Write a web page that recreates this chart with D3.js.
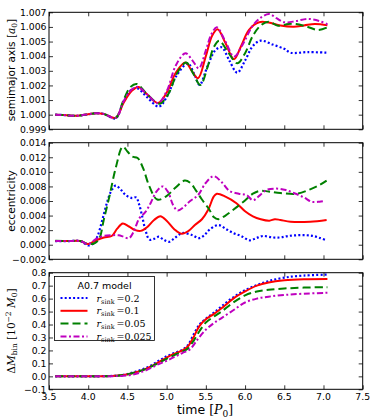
<!DOCTYPE html>
<html>
<head>
<meta charset="utf-8">
<script src="https://cdn.jsdelivr.net/npm/d3@7"></script>
<style>
  body { margin: 0; background: #fff; }
  svg text { font-family: "DejaVu Sans", sans-serif; }
  .math { font-family: "DejaVu Serif", serif; }
</style>
</head>
<body>
<div id="chart"></div>
<script>
// time axis
const xTicks = [3.5, 4.0, 4.5, 5.0, 5.5, 6.0, 6.5, 7.0, 7.5];

// semimajor axis [a0]
const aTicks = [0.999, 1.000, 1.001, 1.002, 1.003, 1.004, 1.005, 1.006, 1.007];
const aStart = [[3.58, 1.0], [3.7, 0.99997], [3.85, 0.99992], [4.0, 1.00003], [4.1, 1.0001], [4.2, 1.00005]];
const aSink02 = aStart.concat([[4.35, 0.99975], [4.45, 1.0009], [4.55, 1.0017], [4.63, 1.0018], [4.75, 1.0012], [4.9, 1.00055], [5.0, 1.0012], [5.13, 1.0027], [5.27, 1.0035], [5.35, 1.0028], [5.42, 1.00203], [5.52, 1.0033], [5.62, 1.0044], [5.7, 1.00461], [5.8, 1.0037], [5.9, 1.00287], [6.0, 1.0037], [6.1, 1.0047], [6.2, 1.00506], [6.35, 1.0048], [6.5, 1.0045], [6.58, 1.00424], [6.8, 1.00428], [7.05, 1.00424]]);
const aSink01 = aStart.concat([[4.35, 0.99978], [4.45, 1.0008], [4.55, 1.0016], [4.64, 1.0019], [4.75, 1.0014], [4.89, 1.0008], [5.0, 1.0015], [5.12, 1.0029], [5.24, 1.00356], [5.32, 1.003], [5.4, 1.00249], [5.5, 1.004], [5.58, 1.0054], [5.65, 1.00584], [5.75, 1.0049], [5.86, 1.00379], [5.95, 1.0047], [6.05, 1.0058], [6.18, 1.00632], [6.3, 1.0063], [6.45, 1.0061], [6.62, 1.00602], [6.75, 1.0061], [6.89, 1.0062], [7.05, 1.00612]]);
const aSink005 = aStart.concat([[4.35, 0.99978], [4.45, 1.001], [4.54, 1.0019], [4.62, 1.0021], [4.75, 1.0014], [4.91, 1.00075], [5.02, 1.0014], [5.14, 1.0029], [5.25, 1.00356], [5.34, 1.0028], [5.43, 1.00203], [5.53, 1.0034], [5.6, 1.0046], [5.67, 1.00506], [5.78, 1.0043], [5.9, 1.00351], [6.0, 1.0042], [6.1, 1.0054], [6.2, 1.0061], [6.3, 1.00636], [6.42, 1.00608], [6.55, 1.0062], [6.65, 1.0062], [6.8, 1.006], [6.93, 1.00579], [7.05, 1.00597]]);
const aSink0025 = aStart.concat([[4.35, 0.99978], [4.45, 1.0009], [4.55, 1.0017], [4.63, 1.0019], [4.75, 1.0014], [4.89, 1.0008], [5.0, 1.0016], [5.12, 1.0034], [5.24, 1.0042], [5.33, 1.0037], [5.41, 1.00317], [5.5, 1.0044], [5.57, 1.0055], [5.64, 1.00597], [5.75, 1.005], [5.86, 1.00397], [5.97, 1.0048], [6.1, 1.0061], [6.22, 1.0067], [6.31, 1.00688], [6.4, 1.0066], [6.5, 1.00632], [6.65, 1.0064], [6.8, 1.00655], [6.95, 1.0064], [7.05, 1.00618]]);

// eccentricity
const eTicks = [-0.002, 0.000, 0.002, 0.004, 0.006, 0.008, 0.010, 0.012, 0.014];
const eSink02 = [[3.58, 0.0005], [3.75, 0.0005], [3.9, 0.0005], [4.0, -0.0001], [4.07, 0.0002], [4.12, 0.0012], [4.18, 0.0034], [4.24, 0.0058], [4.29, 0.0073], [4.35, 0.0081], [4.42, 0.0075], [4.48, 0.0068], [4.56, 0.0064], [4.61, 0.0065], [4.65, 0.0055], [4.69, 0.0038], [4.73, 0.002], [4.78, 0.0007], [4.84, 0.0008], [4.9, 0.0011], [4.96, 0.0007], [5.03, 0.0004], [5.1, 0.0009], [5.2, 0.0016], [5.33, 0.0013], [5.41, 0.0009], [5.48, 0.0013], [5.54, 0.002], [5.66, 0.0027], [5.75, 0.0022], [5.85, 0.0016], [5.95, 0.0012], [6.06, 0.0006], [6.14, 0.0009], [6.23, 0.0012], [6.35, 0.001], [6.45, 0.001], [6.55, 0.0012], [6.66, 0.0013], [6.78, 0.0013], [6.87, 0.0012], [6.96, 0.0009], [7.04, 0.0006]];
const eSink01 = [[3.58, 0.0005], [3.75, 0.0005], [3.9, 0.0005], [4.0, 0.0001], [4.1, 0.0006], [4.2, 0.001], [4.3, 0.0012], [4.37, 0.0022], [4.44, 0.0029], [4.52, 0.0025], [4.6, 0.002], [4.67, 0.0019], [4.75, 0.0024], [4.84, 0.0034], [4.92, 0.0039], [5.0, 0.0033], [5.1, 0.0021], [5.19, 0.0015], [5.28, 0.0019], [5.36, 0.0027], [5.45, 0.0035], [5.53, 0.0048], [5.6, 0.0066], [5.64, 0.007], [5.75, 0.0066], [5.89, 0.0057], [6.0, 0.0046], [6.1, 0.0039], [6.2, 0.0035], [6.31, 0.0033], [6.38, 0.0035], [6.45, 0.0034], [6.58, 0.00315], [6.83, 0.00315], [7.04, 0.0034]];
const eSink005 = [[3.58, 0.00055], [3.75, 0.0005], [3.9, 0.0005], [4.0, 0.0001], [4.08, 0.0002], [4.14, 0.0008], [4.2, 0.0035], [4.27, 0.0066], [4.35, 0.0105], [4.44, 0.01345], [4.5, 0.0128], [4.56, 0.0121], [4.63, 0.0119], [4.7, 0.0105], [4.78, 0.008], [4.88, 0.0062], [4.99, 0.0066], [5.1, 0.0077], [5.23, 0.0088], [5.3, 0.0085], [5.37, 0.0075], [5.45, 0.0062], [5.54, 0.0049], [5.6, 0.0038], [5.66, 0.0035], [5.75, 0.004], [5.85, 0.0048], [5.98, 0.0059], [6.1, 0.007], [6.19, 0.0074], [6.3, 0.0073], [6.45, 0.0071], [6.66, 0.007], [6.83, 0.0076], [6.95, 0.0082], [7.04, 0.0088]];
const eSink0025 = [[3.58, 0.0005], [3.75, 0.0005], [3.9, 0.0005], [4.0, 0.0001], [4.1, 0.0008], [4.2, 0.0012], [4.3, 0.0013], [4.39, 0.0013], [4.45, 0.0011], [4.52, 0.0009], [4.58, 0.0018], [4.65, 0.0036], [4.73, 0.0045], [4.8, 0.0058], [4.87, 0.0073], [4.95, 0.008], [5.02, 0.0072], [5.08, 0.0055], [5.14, 0.0047], [5.22, 0.0052], [5.3, 0.006], [5.4, 0.0068], [5.5, 0.0085], [5.6, 0.0094], [5.7, 0.0086], [5.8, 0.0074], [5.92, 0.007], [6.02, 0.0068], [6.1, 0.0061], [6.18, 0.0067], [6.27, 0.0075], [6.4, 0.0077], [6.52, 0.0075], [6.62, 0.0071], [6.75, 0.0065], [6.85, 0.0059], [6.95, 0.0059], [7.02, 0.006]];

// accreted mass [1e-2 M0]
const mTicks = [-0.1, 0.0, 0.1, 0.2, 0.3, 0.4, 0.5, 0.6, 0.7, 0.8];
const mSink02 = [[3.58, 0], [4.0, 0], [4.3, 0.003], [4.45, 0.012], [4.6, 0.035], [4.75, 0.068], [4.9, 0.12], [5.0, 0.155], [5.1, 0.18], [5.2, 0.205], [5.27, 0.24], [5.35, 0.33], [5.42, 0.4], [5.5, 0.445], [5.6, 0.49], [5.7, 0.54], [5.85, 0.61], [6.0, 0.665], [6.15, 0.705], [6.3, 0.735], [6.5, 0.762], [6.75, 0.778], [7.05, 0.785]];
const mSink01 = [[3.58, 0], [4.0, 0], [4.3, 0.002], [4.45, 0.01], [4.6, 0.03], [4.75, 0.062], [4.9, 0.11], [5.0, 0.145], [5.1, 0.175], [5.2, 0.2], [5.27, 0.23], [5.35, 0.31], [5.42, 0.39], [5.5, 0.44], [5.6, 0.48], [5.7, 0.525], [5.85, 0.6], [6.0, 0.655], [6.15, 0.7], [6.3, 0.725], [6.5, 0.742], [6.75, 0.75], [7.05, 0.752]];
const mSink005 = [[3.58, 0], [4.0, 0], [4.3, 0.002], [4.45, 0.01], [4.6, 0.03], [4.75, 0.06], [4.9, 0.105], [5.0, 0.135], [5.1, 0.165], [5.2, 0.19], [5.27, 0.215], [5.35, 0.28], [5.42, 0.35], [5.5, 0.415], [5.6, 0.46], [5.7, 0.5], [5.85, 0.57], [6.0, 0.625], [6.15, 0.655], [6.3, 0.668], [6.5, 0.678], [6.75, 0.685], [7.05, 0.688]];
const mSink0025 = [[3.58, 0], [4.0, 0], [4.3, 0.001], [4.45, 0.005], [4.6, 0.018], [4.75, 0.05], [4.9, 0.095], [5.0, 0.12], [5.1, 0.15], [5.2, 0.18], [5.3, 0.21], [5.4, 0.29], [5.5, 0.36], [5.6, 0.41], [5.7, 0.45], [5.85, 0.51], [6.0, 0.57], [6.15, 0.6], [6.3, 0.615], [6.5, 0.628], [6.75, 0.638], [7.05, 0.645]];

const sinkLabels = ["0.2", "0.1", "0.05", "0.025"];

(function() {
  const width = 374;
  const height = 420;
  const left = 49, right = 362.7;

  const styles = [
    { color: "#0000ff", dash: "2,2.2", width: 2.2 },
    { color: "#ff0000", dash: null, width: 2 },
    { color: "#008000", dash: "8,4", width: 2 },
    { color: "#bf00bf", dash: "6,2.5,2,2.5", width: 2 }
  ];

  const svg = d3.select("#chart")
    .append("svg")
    .attr("width", width)
    .attr("height", height);

  const x = d3.scaleLinear().domain([3.5, 7.5]).range([left, right]);

  const panels = [
    { top: 12.3, bottom: 129.3, ticks: aTicks, fmt: d3.format(".3f"), series: [aSink02, aSink01, aSink005, aSink0025] },
    { top: 142.7, bottom: 259.3, ticks: eTicks, fmt: d3.format(".3f"), series: [eSink02, eSink01, eSink005, eSink0025] },
    { top: 272.7, bottom: 389.3, ticks: mTicks, fmt: d3.format(".1f"), series: [mSink02, mSink01, mSink005, mSink0025] }
  ];

  const line = (y) => d3.line()
    .x(d => x(d[0]))
    .y(d => y(d[1]))
    .curve(d3.curveCatmullRom.alpha(0.5));

  panels.forEach((p, i) => {
    const y = d3.scaleLinear()
      .domain([p.ticks[0], p.ticks[p.ticks.length - 1]])
      .range([p.bottom, p.top]);
    const g = svg.append("g");

    // the data lines
    p.series.forEach((s, k) => {
      g.append("path")
        .datum(s)
        .attr("d", line(y))
        .attr("fill", "none")
        .attr("stroke", styles[k].color)
        .attr("stroke-width", styles[k].width)
        .attr("stroke-dasharray", styles[k].dash);
    });

    // inward ticks on all four sides
    const axL = g.append("g").attr("transform", `translate(${left},0)`)
      .call(d3.axisRight(y).tickValues(p.ticks).tickSize(4).tickFormat(""));
    const axR = g.append("g").attr("transform", `translate(${right},0)`)
      .call(d3.axisLeft(y).tickValues(p.ticks).tickSize(4).tickFormat(""));
    const axT = g.append("g").attr("transform", `translate(0,${p.top})`)
      .call(d3.axisBottom(x).tickValues(xTicks).tickSize(4).tickFormat(""));
    const axB = g.append("g").attr("transform", `translate(0,${p.bottom})`)
      .call(d3.axisTop(x).tickValues(xTicks).tickSize(4).tickFormat(""));
    [axL, axR, axT, axB].forEach(a => {
      a.select(".domain").remove();
      a.selectAll("line").attr("stroke", "#000").attr("stroke-width", 0.8);
    });

    // tick labels on the left
    g.selectAll(".ylab")
      .data(p.ticks)
      .join("text")
      .attr("x", left - 2.5)
      .attr("y", d => y(d) + 3.3)
      .attr("text-anchor", "end")
      .attr("font-size", 9.3)
      .attr("fill", "#000")
      .text(d => p.fmt(d).replace("-", "\u2212"));

    // frame
    g.append("rect")
      .attr("x", left).attr("y", p.top)
      .attr("width", right - left).attr("height", p.bottom - p.top)
      .attr("fill", "none").attr("stroke", "#000").attr("stroke-width", 1);

    if (i === 2) {
      g.selectAll(".xlab")
        .data(xTicks)
        .join("text")
        .attr("x", d => x(d))
        .attr("y", p.bottom + 11)
        .attr("text-anchor", "middle")
        .attr("font-size", 9.3)
        .text(d => d3.format(".1f")(d));
    }
  });

  // y labels
  const yl1 = svg.append("text")
    .attr("transform", "translate(15,70) rotate(-90)")
    .attr("text-anchor", "middle")
    .attr("font-size", 10.5);
  yl1.append("tspan").text("semimajor axis ");
  yl1.append("tspan").attr("class", "math").text("[");
  yl1.append("tspan").attr("class", "math").attr("font-style", "italic").text("a");
  yl1.append("tspan").attr("class", "math").attr("font-size", 7.5).attr("dy", 2).text("0");
  yl1.append("tspan").attr("class", "math").attr("dy", -2).text("]");

  svg.append("text")
    .attr("transform", "translate(15,201) rotate(-90)")
    .attr("text-anchor", "middle")
    .attr("font-size", 10.5)
    .text("eccentricity");

  const yl3 = svg.append("text")
    .attr("class", "math")
    .attr("transform", "translate(15,331) rotate(-90)")
    .attr("text-anchor", "middle")
    .attr("font-size", 10.5);
  yl3.append("tspan").text("\u0394");
  yl3.append("tspan").attr("font-style", "italic").text("M");
  yl3.append("tspan").attr("font-size", 7.5).attr("dy", 2).text("bin");
  yl3.append("tspan").attr("dy", -2).text(" [10");
  yl3.append("tspan").attr("font-size", 7.5).attr("dy", -4).text("\u22122");
  yl3.append("tspan").attr("dy", 4).text(" ");
  yl3.append("tspan").attr("font-style", "italic").text("M");
  yl3.append("tspan").attr("font-size", 7.5).attr("dy", 2).text("0");
  yl3.append("tspan").attr("dy", -2).text("]");

  // x label
  const xl = svg.append("text")
    .attr("x", 205)
    .attr("y", 414)
    .attr("text-anchor", "middle")
    .attr("font-size", 12.5);
  xl.append("tspan").text("time ");
  xl.append("tspan").attr("class", "math").text("[");
  xl.append("tspan").attr("class", "math").attr("font-style", "italic").text("P");
  xl.append("tspan").attr("class", "math").attr("font-size", 9).attr("dy", 2.5).text("0");
  xl.append("tspan").attr("class", "math").attr("dy", -2.5).text("]");

  // legend
  const lg = svg.append("g").attr("transform", "translate(54.5,276.5)");
  lg.append("rect")
    .attr("width", 100).attr("height", 64)
    .attr("fill", "#fff").attr("stroke", "#000").attr("stroke-width", 0.8);
  lg.append("text")
    .attr("x", 50).attr("y", 12)
    .attr("text-anchor", "middle")
    .attr("font-size", 9.5)
    .text("A0.7 model");
  sinkLabels.forEach((lab, k) => {
    const yy = 21.5 + k * 12.8;
    lg.append("line")
      .attr("x1", 6).attr("x2", 33)
      .attr("y1", yy).attr("y2", yy)
      .attr("stroke", styles[k].color)
      .attr("stroke-width", styles[k].width)
      .attr("stroke-dasharray", styles[k].dash);
    const t = lg.append("text")
      .attr("class", "math")
      .attr("x", 42).attr("y", yy + 3.5)
      .attr("font-size", 9.5);
    t.append("tspan").attr("font-style", "italic").text("r");
    t.append("tspan").attr("font-size", 6.5).attr("dy", 2).text("sink");
    t.append("tspan").attr("dy", -2).text("\u2009=" + lab);
  });
})();
</script>
</body>
</html>
